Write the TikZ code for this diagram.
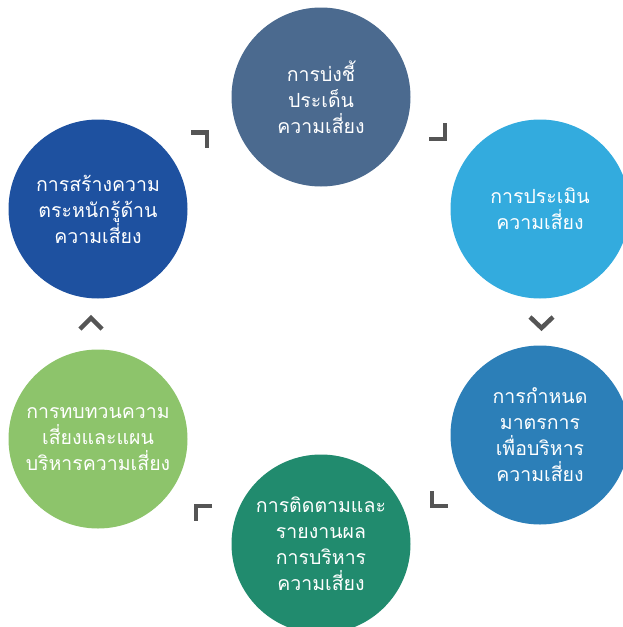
\documentclass[tikz,border=0pt]{standalone}
\usepackage{fontspec}
\newfontfamily\thaifont[Script=Thai]{Loma}
\usetikzlibrary{positioning}

\definecolor{topblue}{HTML}{4B6A8F}
\definecolor{skyblue}{HTML}{33ABDE}
\definecolor{midblue}{HTML}{2C7FB8}
\definecolor{teal}{HTML}{218B6E}
\definecolor{lightgreen}{HTML}{8DC46B}
\definecolor{deepblue}{HTML}{1E51A0}
\definecolor{turngray}{HTML}{555555}

\begin{document}
\begin{tikzpicture}[x=1pt,y=-1pt,
    stage/.style={circle,minimum size=179pt,inner sep=0pt,text=white,align=center,
        font=\thaifont\fontsize{19.5}{26}\selectfont},
    turn/.style={draw=turngray,line width=4.5pt}]

    \useasboundingbox (0,0) rectangle (622,627);

    \node[stage,fill=topblue](a)at(321,97){การบ่งชี้\\ประเด็น\\ความเสี่ยง};

    \node[stage,fill=skyblue](b)at(540,209){การประเมิน\\ความเสี่ยง};

    \node[stage,fill=midblue](c)at(540,435){การกำหนด\\มาตรการ\\เพื่อบริหาร\\ความเสี่ยง};

    \node[stage,fill=teal](d)at(321,544){การติดตามและ\\รายงานผล\\การบริหาร\\ความเสี่ยง};

    \node[stage,fill=lightgreen](e)at(98,439){การทบทวนความ\\เสี่ยงและแผน\\บริหารความเสี่ยง};

    \node[stage,fill=deepblue](f)at(98,209){การสร้างความ\\ตระหนักรู้ด้าน\\ความเสี่ยง};

    \draw[turn](191,132.5)--(207,132.5)--(207,148);
    \draw[turn](445,123)--(445,139)--(429,139);
    \draw[turn](530,317)--(541.5,328)--(553,317);
    \draw[turn](432,491)--(432,506)--(448,506);
    \draw[turn](212,506)--(196,506)--(196,521);
    \draw[turn](80,329)--(91,318)--(102,329);

\end{tikzpicture}
\end{document}
